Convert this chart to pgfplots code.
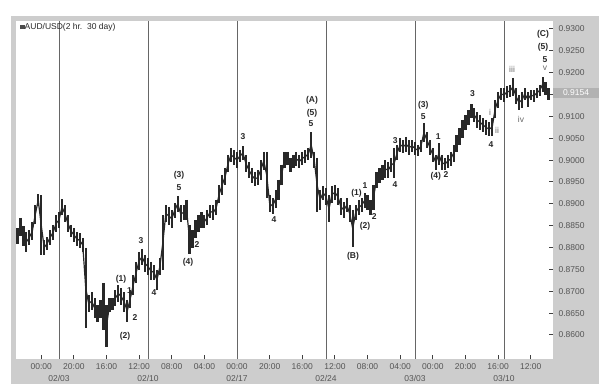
\documentclass[border=0pt]{standalone}
\usepackage{pgfplots}
\pgfplotsset{compat=1.18}
\usepackage{pgfplotstable}
\usepackage{fontspec}
\setmainfont{Liberation Sans}
\definecolor{framegray}{RGB}{205,205,205}
\definecolor{tickgray}{RGB}{85,85,85}
\definecolor{wavegray}{RGB}{105,105,105}
\definecolor{barcol}{RGB}{40,40,40}
\tikzset{
  lbl/.style={font=\fontsize{8.5}{9}\selectfont\bfseries, text=black!85, inner sep=0pt},
  rlbl/.style={font=\fontsize{8.5}{9}\selectfont, text=wavegray, inner sep=0pt},
}
\pgfplotstableread{
t hi lo
-56 0.8845 0.8808
-52 0.8868 0.8826
-48 0.8849 0.8804
-44 0.8836 0.8790
-40 0.8840 0.8806
-36 0.8858 0.8817
-32 0.8897 0.8854
-28 0.8922 0.8895
-24 0.8920 0.8783
-20 0.8817 0.8783
-16 0.8824 0.8794
-12 0.8840 0.8806
-8 0.8852 0.8817
-4 0.8874 0.8836
0 0.8881 0.8845
4 0.8911 0.8874
8 0.8897 0.8858
12 0.8874 0.8836
16 0.8852 0.8824
20 0.8845 0.8813
24 0.8836 0.8804
28 0.8833 0.8799
32 0.8822 0.8790
36 0.8799 0.8616
40 0.8691 0.8652
44 0.8698 0.8657
48 0.8684 0.8639
52 0.8668 0.8630
56 0.8680 0.8639
60 0.8719 0.8611
64 0.8668 0.8572
68 0.8684 0.8652
72 0.8684 0.8657
76 0.8703 0.8666
80 0.8714 0.8675
84 0.8707 0.8668
88 0.8698 0.8652
92 0.8680 0.8630
96 0.8703 0.8662
100 0.8737 0.8691
104 0.8767 0.8719
108 0.8790 0.8749
112 0.8797 0.8760
116 0.8783 0.8744
120 0.8776 0.8737
124 0.8767 0.8726
128 0.8760 0.8726
132 0.8749 0.8703
136 0.8776 0.8737
140 0.8874 0.8749
144 0.8897 0.8858
148 0.8893 0.8852
152 0.8886 0.8845
156 0.8902 0.8868
160 0.8918 0.8881
164 0.8897 0.8858
168 0.8897 0.8863
172 0.8909 0.8863
176 0.8852 0.8785
180 0.8840 0.8799
184 0.8863 0.8822
188 0.8874 0.8836
192 0.8881 0.8845
196 0.8874 0.8845
200 0.8886 0.8852
204 0.8897 0.8868
208 0.8897 0.8863
212 0.8909 0.8874
216 0.8943 0.8902
220 0.8966 0.8920
224 0.8982 0.8943
228 0.9012 0.8973
232 0.9028 0.8996
236 0.9023 0.8989
240 0.9019 0.8982
244 0.9023 0.8996
248 0.9032 0.9000
252 0.9012 0.8973
256 0.8996 0.8959
260 0.8982 0.8948
264 0.8973 0.8941
268 0.8977 0.8943
272 0.9000 0.8955
276 0.9019 0.8977
280 0.9019 0.8913
284 0.8920 0.8881
288 0.8913 0.8877
292 0.8932 0.8890
296 0.8955 0.8909
300 0.8989 0.8943
304 0.9019 0.8982
308 0.9019 0.8989
312 0.9005 0.8973
316 0.9012 0.8982
320 0.9019 0.8987
324 0.9012 0.8982
328 0.9019 0.8989
332 0.9023 0.8993
336 0.9028 0.9000
340 0.9064 0.9005
344 0.9019 0.8982
348 0.9005 0.8881
352 0.8932 0.8886
356 0.8941 0.8909
360 0.8936 0.8897
364 0.8920 0.8858
368 0.8941 0.8902
372 0.8943 0.8909
376 0.8936 0.8897
380 0.8913 0.8874
384 0.8904 0.8868
388 0.8913 0.8881
392 0.8897 0.8858
396 0.8886 0.8801
400 0.8897 0.8863
404 0.8909 0.8874
408 0.8913 0.8881
412 0.8925 0.8890
416 0.8920 0.8886
420 0.8909 0.8874
424 0.8943 0.8886
428 0.8973 0.8936
432 0.8982 0.8948
436 0.8989 0.8955
440 0.9000 0.8959
444 0.8996 0.8959
448 0.9005 0.8973
452 0.9028 0.8959
456 0.9035 0.9000
460 0.9051 0.9019
464 0.9046 0.9016
468 0.9053 0.9019
472 0.9046 0.9012
476 0.9046 0.9019
480 0.9041 0.9012
484 0.9035 0.9010
488 0.9046 0.9019
492 0.9085 0.9041
496 0.9064 0.9028
500 0.9046 0.9012
504 0.9028 0.8996
508 0.9012 0.8977
512 0.9039 0.8989
516 0.9012 0.8977
520 0.9005 0.8977
524 0.9012 0.8982
528 0.9019 0.8987
532 0.9035 0.8996
536 0.9057 0.9019
540 0.9073 0.9035
544 0.9092 0.9051
548 0.9103 0.9069
552 0.9115 0.9080
556 0.9128 0.9096
560 0.9119 0.9087
564 0.9110 0.9073
568 0.9103 0.9069
572 0.9096 0.9064
576 0.9092 0.9057
580 0.9087 0.9055
584 0.9096 0.9055
588 0.9138 0.9096
592 0.9156 0.9119
596 0.9165 0.9138
600 0.9165 0.9133
604 0.9170 0.9142
608 0.9172 0.9144
612 0.9188 0.9147
616 0.9165 0.9128
620 0.9149 0.9115
624 0.9156 0.9119
628 0.9165 0.9138
632 0.9156 0.9122
636 0.9160 0.9138
640 0.9160 0.9133
644 0.9165 0.9142
648 0.9172 0.9147
652 0.9190 0.9156
656 0.9179 0.9149
660 0.9165 0.9138
}\bars

\begin{document}
\begin{tikzpicture}[x=1pt,y=1pt]
\fill[white] (0,0) rectangle (605,388);
\fill[framegray] (11,4) rectangle (599,372);
\begin{axis}[
  at={(16pt,29pt)}, anchor=south west, scale only axis,
  width=537pt, height=338pt,
  xmin=-58, xmax=666, ymin=0.8545, ymax=0.93183,
  axis background/.style={fill=white},
  axis line style={draw=none},
  tick align=inside,
  xtick pos=bottom, ytick pos=right, yticklabel pos=right,
  major tick length=4pt,
  tick style={draw=black!75, line width=1pt},
  scaled y ticks=false,
  tick label style={font=\fontsize{8.5}{10}\selectfont, text=tickgray},
  ytick={0.86,0.865,0.87,0.875,0.88,0.885,0.89,0.895,0.9,0.905,0.91,0.915,0.92,0.925,0.93},
  yticklabels={0.8600,0.8650,0.8700,0.8750,0.8800,0.8850,0.8900,0.8950,0.9000,0.9050,0.9100,,0.9200,0.9250,0.9300},
  yticklabel style={xshift=2pt},
  xtick={-24,20,64,108,152,196,240,284,328,372,416,460,504,548,592,636},
  xticklabels={00:00,20:00,16:00,12:00,08:00,04:00,00:00,20:00,16:00,12:00,08:00,04:00,00:00,20:00,16:00,12:00},
  xticklabel style={yshift=-1pt},
  extra x ticks={0,120,240,360,480,600},
  extra x tick labels={02/03,02/10,02/17,02/24,03/03,03/10},
  extra x tick style={grid=major, major tick length=0pt, tick label style={yshift=-12pt}},
  major grid style={draw=black!60, line width=0.9pt},
]
\addplot[draw=none, mark=none, forget plot, error bars/.cd, y dir=minus, y explicit, error mark=none,
  error bar style={draw=barcol, solid, line width=2.2pt}]
  table[x=t, y=hi, y error minus expr=\thisrow{hi}-\thisrow{lo}] {\bars};
\addplot[draw=barcol, line width=1.2pt, mark=none, forget plot]
  table[x=t, y expr=0.5*\thisrow{hi}+0.5*\thisrow{lo}] {\bars};
\node[lbl] at (axis cs:83.6,0.8728) {(1)};
\node[lbl] at (axis cs:95,0.8702) {1};
\node[lbl] at (axis cs:102.5,0.8641) {2};
\node[lbl] at (axis cs:89,0.8596) {(2)};
\node[lbl] at (axis cs:110.6,0.8817) {3};
\node[lbl] at (axis cs:128,0.8696) {4};
\node[lbl] at (axis cs:161.8,0.8966) {(3)};
\node[lbl] at (axis cs:161.8,0.8938) {5};
\node[lbl] at (axis cs:173.9,0.8767) {(4)};
\node[lbl] at (axis cs:186,0.8806) {2};
\node[lbl] at (axis cs:248,0.9053) {3};
\node[lbl] at (axis cs:289.9,0.8863) {4};
\node[lbl] at (axis cs:341,0.9138) {(A)};
\node[lbl] at (axis cs:341,0.9108) {(5)};
\node[lbl] at (axis cs:339.8,0.9083) {5};
\node[lbl] at (axis cs:396.4,0.8781) {(B)};
\node[lbl] at (axis cs:401,0.8924) {(1)};
\node[lbl] at (axis cs:412.6,0.8941) {1};
\node[lbl] at (axis cs:412.6,0.8848) {(2)};
\node[lbl] at (axis cs:425,0.8872) {2};
\node[lbl] at (axis cs:453.4,0.9044) {3};
\node[lbl] at (axis cs:453,0.8943) {4};
\node[lbl] at (axis cs:491,0.9126) {(3)};
\node[lbl] at (axis cs:491,0.9099) {5};
\node[lbl] at (axis cs:508,0.8962) {(4)};
\node[lbl] at (axis cs:511.4,0.9054) {1};
\node[lbl] at (axis cs:521.8,0.8966) {2};
\node[lbl] at (axis cs:557.3,0.9153) {3};
\node[lbl] at (axis cs:582.5,0.9036) {4};
\node[rlbl] at (axis cs:581.1,0.9108) {i};
\node[rlbl] at (axis cs:590.6,0.9069) {ii};
\node[rlbl] at (axis cs:610.8,0.9208) {iii};
\node[rlbl] at (axis cs:622.9,0.9094) {iv};
\node[lbl] at (axis cs:655.3,0.9229) {5};
\node[rlbl] at (axis cs:655.3,0.9211) {v};
\node[lbl] at (axis cs:652.6,0.9257) {(5)};
\node[lbl] at (axis cs:652.6,0.9289) {(C)};
\end{axis}
\node[anchor=west, font=\fontsize{8.5}{10}\selectfont, text=black!85, inner sep=0pt] at (20,361)
  {\textcolor{black!70}{\rule{4.5pt}{4.5pt}}AUD/USD(2 hr.\ \ 30 day)};
\node[fill=black!30, text=white, font=\fontsize{8.5}{10}\selectfont, inner ysep=1.5pt, minimum width=46pt] at (576,295) {0.9154};
\end{tikzpicture}
\end{document}
